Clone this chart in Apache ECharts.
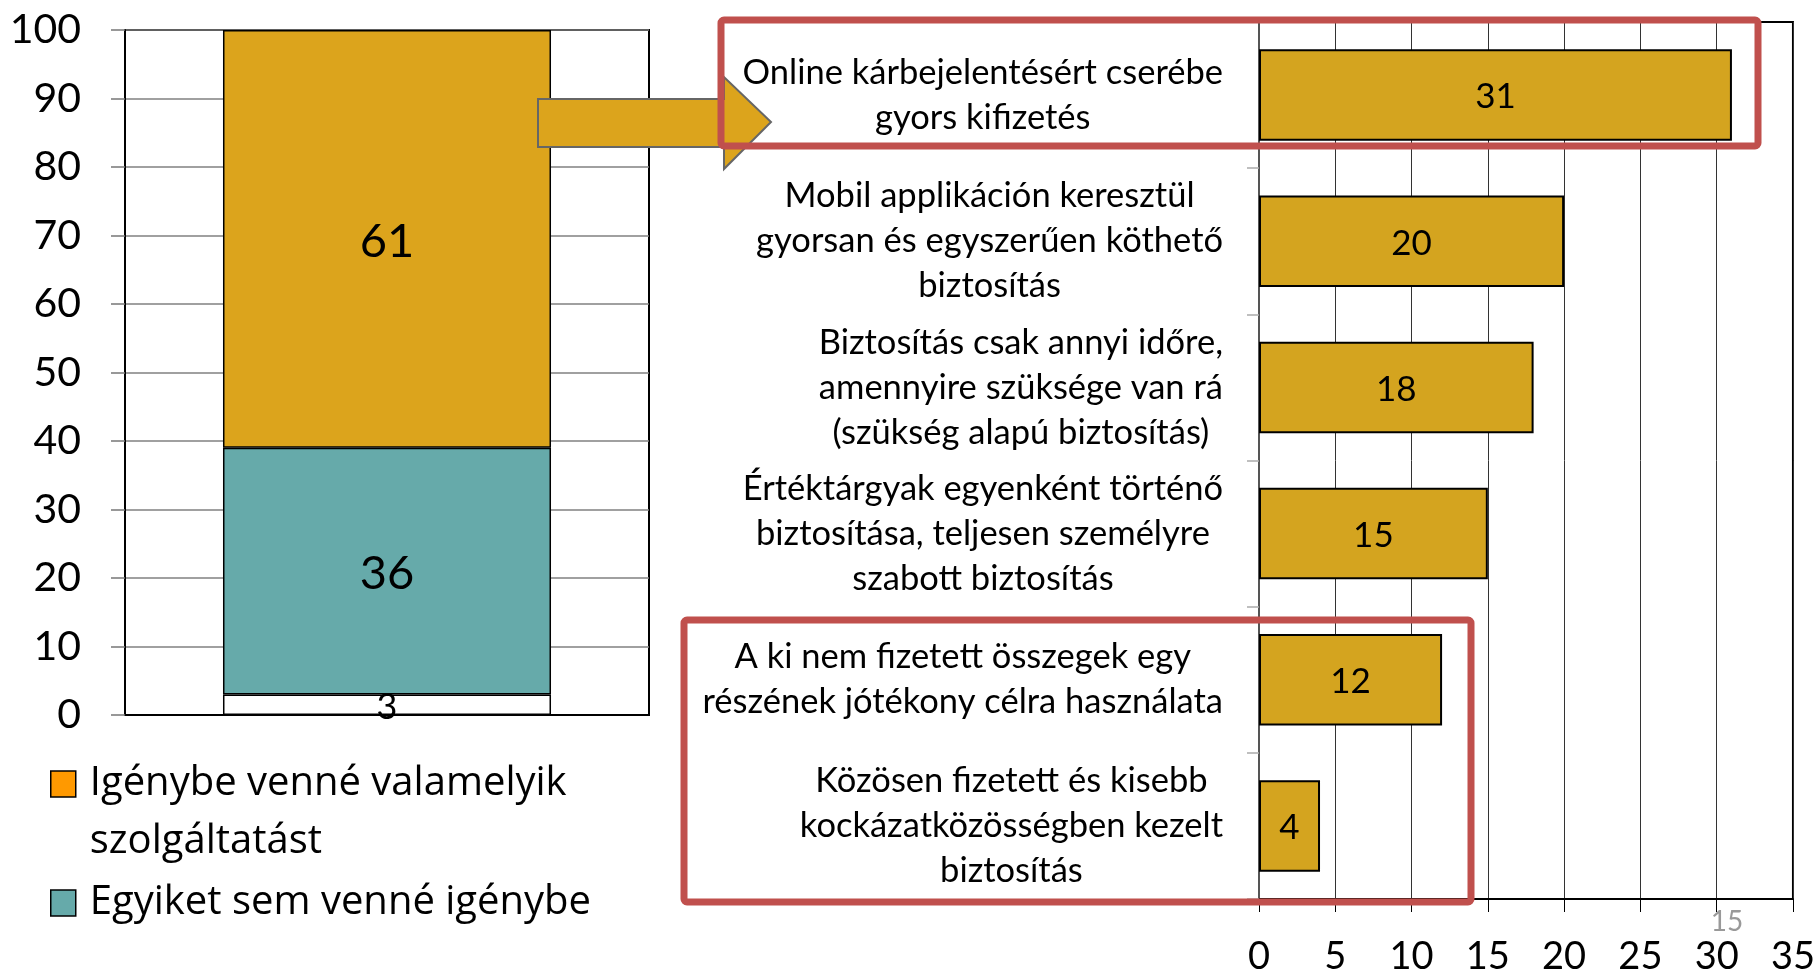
<!DOCTYPE html>
<html lang="hu">
<head>
<meta charset="utf-8">
<title>Szolgáltatások igénybevétele</title>
<script src="https://cdn.jsdelivr.net/npm/echarts@6/dist/echarts.min.js"></script>
<style>
  html, body { margin: 0; padding: 0; background: #fff; }
  #main { width: 1818px; height: 976px; }
</style>
</head>
<body>
<div id="main"></div>
<script>
// bal oldali halmozott oszlop (alulról felfelé)
const stackNames = ['Nem tudja', 'Egyiket sem venné igénybe', 'Igénybe venné valamelyik szolgáltatást']
const stackValues = [3, 36, 61]
const stackColors = ['#FFFFFF', '#66AAAA', '#DCA41C']
const legendColors = ['#FF9900', '#66AAAA']

// jobb oldali sávok (fentről lefelé)
const services = [
  'Online kárbejelentésért cserébe\ngyors kifizetés',
  'Mobil applikáción keresztül\ngyorsan és egyszerűen köthető\nbiztosítás',
  'Biztosítás csak annyi időre,\namennyire szüksége van rá\n(szükség alapú biztosítás)',
  'Értéktárgyak egyenként történő\nbiztosítása, teljesen személyre\nszabott biztosítás',
  'A ki nem fizetett összegek egy\nrészének jótékony célra használata',
  'Közösen fizetett és kisebb\nkockázatközösségben kezelt\nbiztosítás'
]
const serviceValues = [31, 20, 18, 15, 12, 4]

// tengelyek
const leftAxis = { min: 0, max: 100, interval: 10 }
const rightAxis = { min: 0, max: 35, interval: 5 }

const FONT = 'Lato'
const LEGEND_FONT = 'Open Sans'

const chart = echarts.init(document.getElementById('main'), null, { renderer: 'canvas' })

const stackSeries = stackNames.map((name, i) => ({
  name: name,
  type: 'bar',
  xAxisIndex: 0,
  yAxisIndex: 0,
  stack: 'osszes',
  barWidth: '62.6%',
  data: [stackValues[i]],
  itemStyle: { color: stackColors[i], borderColor: '#000', borderWidth: 1.5 },
  label: {
    show: true,
    position: 'inside',
    offset: [0, 3],
    color: '#000',
    fontFamily: FONT,
    fontSize: i === 0 ? 36 : 47,
    textBorderWidth: 0
  }
}))

// a kétsoros jelmagyarázatnál üres első sor, hogy az ikon az első sorhoz igazodjon
const legendLabel = name => name === stackNames[2] ? ' \nIgénybe venné valamelyik\nszolgáltatást' : name

const option = {
  animation: false,
  backgroundColor: '#fff',
  textStyle: { fontFamily: FONT, color: '#000' },
  grid: [
    { left: 125, top: 30, width: 524, height: 685, show: true, borderColor: '#000', borderWidth: 2, backgroundColor: 'transparent' },
    { left: 1259, top: 22, width: 534, height: 882, show: true, borderColor: '#000', borderWidth: 2, backgroundColor: 'transparent' }
  ],
  legend: {
    orient: 'vertical',
    left: 50,
    top: 697,
    padding: 0,
    itemWidth: 25,
    itemHeight: 26,
    itemGap: 3,
    icon: 'rect',
    itemStyle: { borderColor: '#000', borderWidth: 1.5 },
    textStyle: { fontFamily: LEGEND_FONT, fontSize: 40, lineHeight: 58, color: '#000', padding: [0, 0, 0, 9] },
    formatter: legendLabel,
    data: [
      { name: stackNames[2], itemStyle: { color: legendColors[0] } },
      { name: stackNames[1], itemStyle: { color: legendColors[1] } }
    ]
  },
  xAxis: [
    {
      gridIndex: 0,
      type: 'category',
      data: [''],
      axisLine: { show: true, lineStyle: { color: '#000', width: 2 } },
      axisTick: { show: false },
      axisLabel: { show: false }
    },
    {
      gridIndex: 1,
      type: 'value',
      min: rightAxis.min,
      max: rightAxis.max,
      interval: rightAxis.interval,
      axisLine: { show: true, lineStyle: { color: '#000', width: 2 } },
      axisTick: { show: true, length: 13, lineStyle: { color: '#000', width: 1 } },
      splitLine: { show: true, lineStyle: { color: '#333', width: 1 } },
      axisLabel: { fontFamily: FONT, fontSize: 38, margin: 39, color: '#000' }
    }
  ],
  yAxis: [
    {
      gridIndex: 0,
      type: 'value',
      min: leftAxis.min,
      max: leftAxis.max,
      interval: leftAxis.interval,
      axisLine: { show: true, lineStyle: { color: '#000', width: 2 } },
      axisTick: { show: true, length: 14, lineStyle: { color: '#777', width: 1.5 } },
      splitLine: { show: true, lineStyle: { color: '#808080', width: 1.5 } },
      axisLabel: { fontFamily: FONT, fontSize: 41, margin: 44, color: '#000' }
    },
    {
      gridIndex: 1,
      type: 'category',
      inverse: true,
      data: services,
      axisLine: { show: true, lineStyle: { color: '#555', width: 2 } },
      axisTick: { show: true, interval: 0, length: 12, lineStyle: { color: '#aaa', width: 1.5 } },
      axisLabel: {
        interval: 0,
        margin: 36,
        formatter: v => v.split('\n').map(s => '{c|' + s + '}').join('\n'),
        rich: {
          c: { align: 'center', fontFamily: FONT, fontSize: 34.5, lineHeight: 45, color: '#000' }
        }
      }
    }
  ],
  series: stackSeries.concat([
    {
      name: 'Arány',
      type: 'bar',
      xAxisIndex: 1,
      yAxisIndex: 1,
      barWidth: '62.6%',
      data: serviceValues,
      itemStyle: { color: '#D4A41F', borderColor: '#000', borderWidth: 2 },
      label: { show: true, position: 'inside', offset: [0, 2], color: '#000', fontFamily: FONT, fontSize: 35, textBorderWidth: 0 }
    }
  ]),
  graphic: [
    // nyíl a bal oszloptól a kiemelt sávhoz
    {
      type: 'polygon',
      z: 50,
      shape: { points: [[538, 99], [724, 99], [724, 77], [771, 122], [724, 169], [724, 147], [538, 147]] },
      style: { fill: '#DCA41C', stroke: '#666', lineWidth: 2 }
    },
    // piros kiemelő keretek
    {
      type: 'rect',
      z: 60,
      shape: { x: 721, y: 20, width: 1037, height: 126, r: 3 },
      style: { fill: 'none', stroke: '#C0504D', lineWidth: 7 }
    },
    {
      type: 'rect',
      z: 60,
      shape: { x: 684, y: 620, width: 787, height: 282, r: 3 },
      style: { fill: 'none', stroke: '#C0504D', lineWidth: 7 }
    },
    // oldalszám
    {
      type: 'text',
      z: 60,
      x: 1727,
      y: 922,
      style: { text: '15', fill: '#999', font: '28px Lato', align: 'center', verticalAlign: 'middle' }
    }
  ]
}

chart.setOption(option)
</script>
</body>
</html>
